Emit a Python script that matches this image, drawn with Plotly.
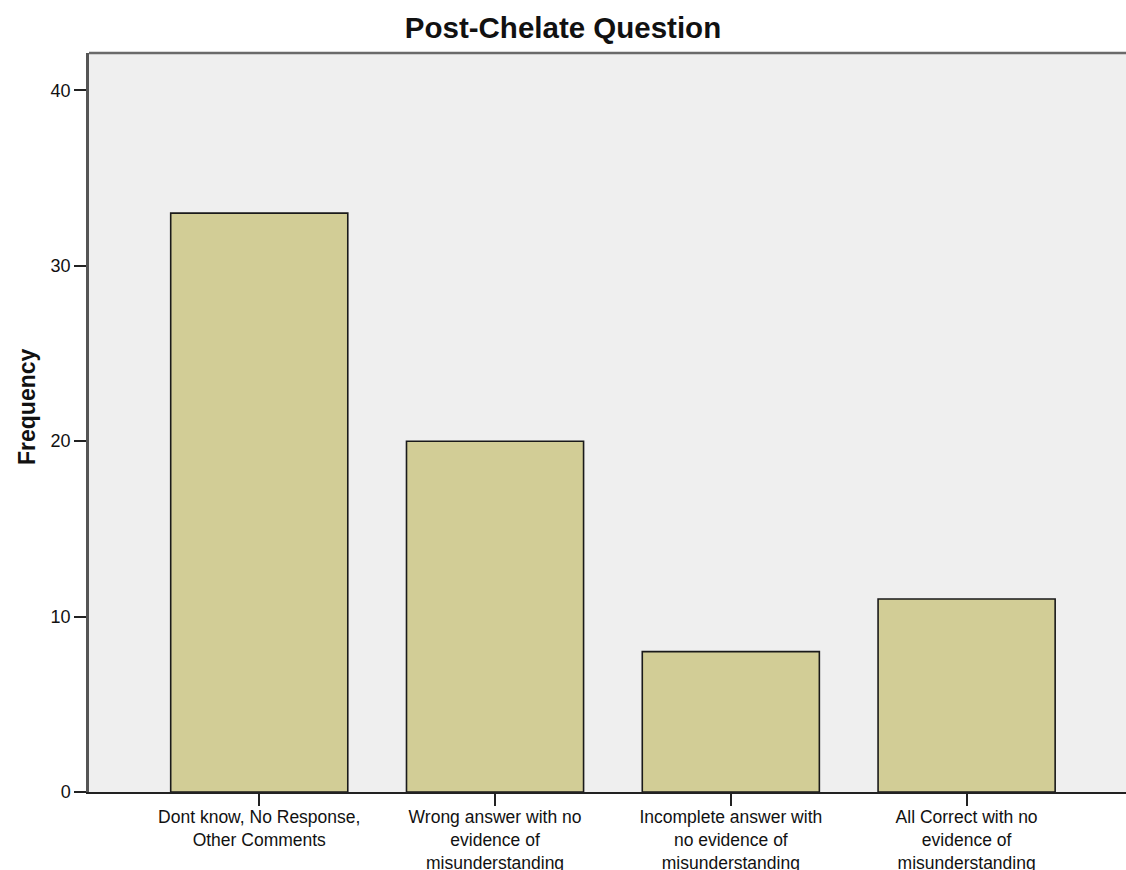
import plotly.graph_objects as go

# Response categories and their counts
categories = [
    "Dont know, No Response,<br>Other Comments",
    "Wrong answer with no<br>evidence of<br>misunderstanding",
    "Incomplete answer with<br>no evidence of<br>misunderstanding",
    "All Correct with no<br>evidence of<br>misunderstanding",
]
frequency = [33, 20, 8, 11]
y_ticks = [0, 10, 20, 30, 40]

FONT = "Liberation Sans, Arial, sans-serif"

fig = go.Figure(
    go.Bar(
        x=list(range(len(categories))),
        y=frequency,
        width=0.751,
        marker=dict(color="#D2CD96", line=dict(color="#1a1a1a", width=1.6)),
        hoverinfo="skip",
    )
)

fig.update_layout(
    width=1126,
    height=870,
    margin=dict(l=89, r=0, t=53, b=78),
    paper_bgcolor="white",
    plot_bgcolor="#EFEFEF",
    showlegend=False,
    title=dict(
        text="<b>Post-Chelate Question</b>",
        font=dict(family=FONT, size=29.5, color="#111"),
        xref="container", x=0.5, xanchor="center",
        yref="container", y=1 - 28 / 870, yanchor="middle",
    ),
    xaxis=dict(
        range=[-0.722, 3.676],
        tickmode="array",
        tickvals=list(range(len(categories))),
        ticktext=categories,
        ticks="outside",
        ticklen=12,
        tickwidth=1.5,
        tickcolor="#222",
        tickfont=dict(family=FONT, size=17.5, color="#111"),
        ticklabelstandoff=-4,
        showline=True,
        linecolor="#222",
        linewidth=2,
        showgrid=False,
        zeroline=False,
        automargin=False,
        fixedrange=True,
    ),
    yaxis=dict(
        range=[0, 42.13],
        tickmode="array",
        tickvals=y_ticks,
        ticktext=[str(v) for v in y_ticks],
        ticks="outside",
        ticklen=12,
        tickwidth=1.5,
        tickcolor="#222",
        tickfont=dict(family=FONT, size=18, color="#111"),
        showline=True,
        linecolor="#555",
        linewidth=2.5,
        showgrid=False,
        zeroline=False,
        automargin=False,
        fixedrange=True,
    ),
    shapes=[
        # top frame edge of the plot area
        dict(type="line", xref="paper", yref="paper", x0=0, x1=1, y0=1, y1=1,
             line=dict(color="#6a6a6a", width=2.5)),
    ],
    annotations=[
        dict(
            text="<b>Frequency</b>",
            textangle=-90,
            font=dict(family=FONT, size=23, color="#111"),
            xref="paper", yref="paper",
            x=-62 / 1037, y=(792 - 407) / 739,
            xanchor="center", yanchor="middle",
            showarrow=False,
        )
    ],
)

fig.write_html("out.html")
